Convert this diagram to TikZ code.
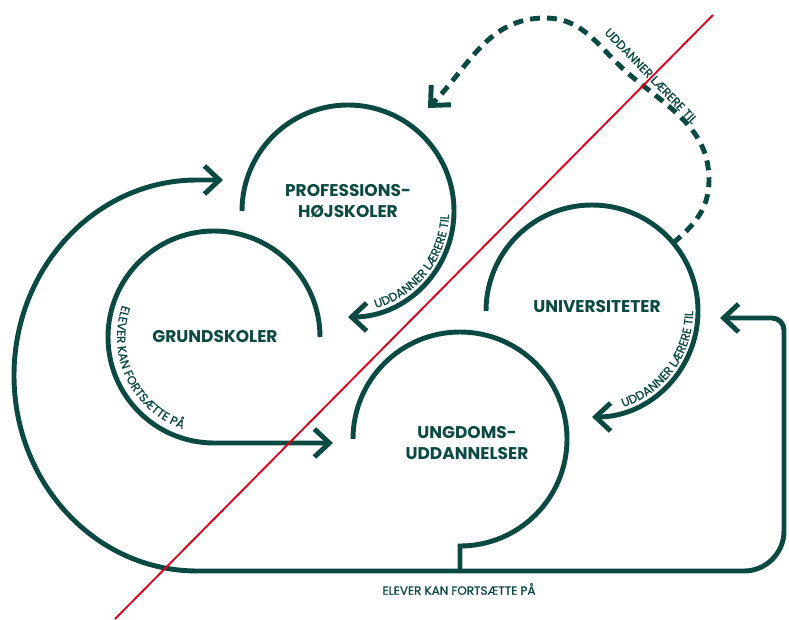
\documentclass[tikz,border=0pt]{standalone}
\usepackage{fontspec}
\setmainfont{Poppins}
\newfontfamily\smaafam[FakeBold=1]{Poppins}
\usetikzlibrary{arrows.meta,calc,decorations.text}
\definecolor{skov}{HTML}{0B4A42}
\definecolor{streg}{HTML}{E2001A}
\newcommand{\smaafont}{\smaafam\fontsize{10.2}{11}\selectfont}
\tikzset{
  loop/.style={draw=skov, line width=4.2pt},
  pil/.style={loop, -{Straight Barb[length=4.5mm,width=8.4mm]}},
  navn/.style={text=skov, font=\bfseries\fontsize{14.5}{18.7}\selectfont, align=center},
  smaa/.style={text=skov, font=\smaafont},
  buetekst/.style={decorate, decoration={text along path, text align=center,
      text={|\color{skov}\smaafont|#1}}}
}

\begin{document}
\begin{tikzpicture}[x=0.03cm, y=0.03cm]
\useasboundingbox (0,0) rectangle (789,-619);

% centre af kredsene
\coordinate (profc) at (348,-211);
\coordinate (grundc) at (214,-337);
\coordinate (univc) at (592,-311);
\coordinate (ungc) at (460,-439);

\node[navn] (prof) at (348,-201) {PROFESSIONS-\\HØJSKOLER};
\node[navn] (grund) at (215,-337) {GRUNDSKOLER};
\node[navn] (univ) at (597,-307) {UNIVERSITETER};
\node[navn] (ung) at (467,-443) {UNGDOMS-\\UDDANNELSER};

% kredse
\draw[pil] ($(profc)+(180:106)$) arc[start angle=180, end angle=-90, radius=106];
\draw[pil] ($(univc)+(180:106)$) arc[start angle=180, end angle=-90, radius=106];
\draw[pil] ($(grundc)+(0:106)$) arc[start angle=0, end angle=270, radius=106] -- (333,-443);
\draw[loop] ($(ungc)+(180:107)$) arc[start angle=180, end angle=-90, radius=107] -- (460,-571) coordinate (knude);

\path[buetekst={UDDANNER LÆRERE TIL}] ($(profc)+(-110:101)$) arc[start angle=-110, end angle=34, radius=101];
\path[buetekst={UDDANNER LÆRERE TIL}] ($(univc)+(-108:101)$) arc[start angle=-108, end angle=36, radius=101];
\path[buetekst={ELEVER KAN FORTSÆTTE PÅ}] ($(grundc)+(134:97)$) arc[start angle=134, end angle=278, radius=97];

% tilbage fra ungdomsuddannelser
\draw[pil] (knude) -- (197,-571) arc[start angle=270, end angle=90, x radius=183, y radius=195.5] -- (223,-180);
\draw[pil] (knude) -- (744,-571) arc[start angle=-90, end angle=0, radius=40] -- (784,-330) arc[start angle=0, end angle=90, radius=12] -- (720,-318);
\node[smaa] (fortsaet) at (459,-589) {ELEVER KAN FORTSÆTTE PÅ};

% stiplet fra universiteter
\coordinate (dstart) at ($(univc)+(40:106)$);
\draw[pil, dash pattern=on 8.5pt off 6pt] (dstart) to[out=40,in=-90] (709,-180) to[out=90,in=-40] (630,-75) to[out=140,in=0] (545,-18) to[out=180,in=45] (428,-108);
\node[smaa, rotate=-46] (uddan) at (651,-76) {UDDANNER LÆRERE TIL};

% rød streg
\coordinate (rtop) at (713,-15);
\coordinate (rbund) at (115,-619);
\draw[streg, line width=1.6pt] (rtop) -- (rbund);
\end{tikzpicture}
\end{document}
